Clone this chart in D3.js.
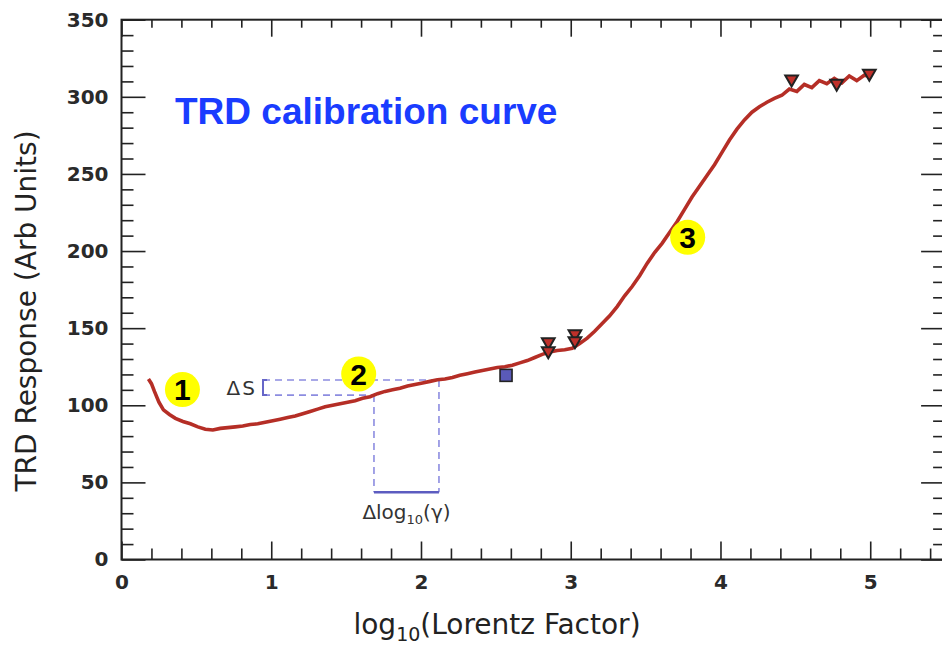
<!DOCTYPE html>
<html>
<head>
<meta charset="utf-8">
<script src="https://cdn.jsdelivr.net/npm/d3@7"></script>
<style>
  body { margin: 0; background: #fff; }
  svg { display: block; }
</style>
</head>
<body>
<div id="chart"></div>
<script>
// TRD response vs log10(gamma)
var curveLogGamma = [0.18, 0.20, 0.22, 0.25, 0.28, 0.32, 0.36, 0.41, 0.46, 0.51, 0.56, 0.61, 0.66, 0.71, 0.76,
  0.81, 0.86, 0.91, 0.96, 1.01, 1.06, 1.11, 1.16, 1.21, 1.26, 1.31, 1.36, 1.41, 1.46, 1.51,
  1.56, 1.61, 1.66, 1.71, 1.76, 1.81, 1.86, 1.91, 1.96, 2.01, 2.06, 2.11, 2.16, 2.21, 2.26,
  2.31, 2.36, 2.41, 2.46, 2.51, 2.56, 2.61, 2.66, 2.71, 2.76, 2.81, 2.86, 2.91, 2.96, 3.01,
  3.06, 3.11, 3.16, 3.21, 3.26, 3.31, 3.36, 3.41, 3.46, 3.51, 3.56, 3.61, 3.66, 3.71, 3.76,
  3.81, 3.86, 3.91, 3.96, 4.01, 4.06, 4.11, 4.16, 4.21, 4.26, 4.31, 4.36, 4.41, 4.46, 4.51,
  4.56, 4.61, 4.66, 4.71, 4.76, 4.81, 4.86, 4.91, 4.96, 5.01];
var curveResponse = [117, 114, 109, 102, 97, 94, 91.5, 89.5, 88, 86, 84.5, 84, 85, 85.5, 86,
  86.5, 87.5, 88, 89, 90, 91, 92, 93, 94.5, 96, 97.5, 99, 100, 101, 102,
  103, 104.5, 105.5, 107.5, 109, 110, 111, 112.5, 113.5, 114.5, 115.5, 116.5, 117, 118, 119.5,
  120.5, 121.5, 122.5, 123.5, 124.5, 125, 126, 127.5, 129, 131, 133, 134.5, 135.5, 136, 137,
  140, 143.5, 148, 153, 158, 164, 171, 177, 184, 192, 199, 205, 212, 219, 227,
  235, 242, 249, 256, 264, 272, 279, 285, 290, 293.5, 296.5, 299, 301, 305, 303.5,
  308, 306, 310.5, 308.5, 312, 309, 313.5, 310.5, 314, 313];

// beam-test points (down triangles) and the single square point
var triLogGamma = [2.85, 2.85, 3.028, 3.028, 4.475, 4.776, 4.994];
var triResponse = [141, 135.2, 146.2, 141.7, 311.4, 308.7, 315.2];
var squareLogGamma = [2.568];
var squareResponse = [119.4];

// numbered call-outs
var calloutLogGamma = [0.407, 1.584, 3.781];
var calloutResponse = [110.2, 120.3, 208.9];
var calloutLabels = ["1", "2", "3"];

var xTickValues = [0, 1, 2, 3, 4, 5];
var yTickValues = [0, 50, 100, 150, 200, 250, 300, 350];

var width = 942, height = 645;

var x = d3.scaleLinear().domain([0, 5.5]).range([121.5, 945.1]);
var y = d3.scaleLinear().domain([0, 350]).range([559.5, 19.7]);

var svg = d3.select("#chart").append("svg")
    .attr("width", width)
    .attr("height", height);

var axisColor = "#222";

// frame
svg.append("rect")
    .attr("x", x(0)).attr("y", y(350))
    .attr("width", x(5.5) - x(0)).attr("height", y(0) - y(350))
    .attr("fill", "none").attr("stroke", axisColor).attr("stroke-width", 2);

function styleAxis(g) {
  g.select(".domain").remove();
  g.selectAll(".tick line").attr("stroke", axisColor).attr("stroke-width", 1.6);
  g.selectAll(".tick text")
      .attr("fill", "#2a2a2a")
      .attr("font-family", "DejaVu Sans")
      .attr("font-weight", "bold")
      .attr("font-size", 20);
}

// minor ticks
var xMinor = d3.range(0, 5.5, 0.2).filter(function(v) { return Math.abs(v - Math.round(v)) > 0.01; });
var yMinor = d3.range(0, 351, 10).filter(function(v) { return v % 50 != 0; });

svg.append("g").attr("transform", "translate(0," + y(0) + ")")
    .call(d3.axisBottom(x).tickValues(xMinor).tickSize(-11).tickFormat(""))
    .call(styleAxis);
svg.append("g").attr("transform", "translate(0," + y(350) + ")")
    .call(d3.axisTop(x).tickValues(xMinor).tickSize(-8).tickFormat(""))
    .call(styleAxis);
svg.append("g").attr("transform", "translate(" + x(0) + ",0)")
    .call(d3.axisLeft(y).tickValues(yMinor).tickSize(-12).tickFormat(""))
    .call(styleAxis);
svg.append("g").attr("transform", "translate(" + x(5.5) + ",0)")
    .call(d3.axisRight(y).tickValues(yMinor).tickSize(-12).tickFormat(""))
    .call(styleAxis);

// major ticks + labels
svg.append("g").attr("transform", "translate(0," + y(0) + ")")
    .call(d3.axisBottom(x).tickValues(xTickValues).tickSizeInner(-18).tickSizeOuter(0)
      .tickPadding(15).tickFormat(d3.format("d")))
    .call(styleAxis);
svg.append("g").attr("transform", "translate(0," + y(350) + ")")
    .call(d3.axisTop(x).tickValues(xTickValues).tickSize(-17).tickFormat(""))
    .call(styleAxis);
svg.append("g").attr("transform", "translate(" + x(0) + ",0)")
    .call(d3.axisLeft(y).tickValues(yTickValues).tickSizeInner(-24).tickSizeOuter(0)
      .tickPadding(13).tickFormat(d3.format("d")))
    .call(styleAxis);
svg.append("g").attr("transform", "translate(" + x(5.5) + ",0)")
    .call(d3.axisRight(y).tickValues(yTickValues).tickSize(-24).tickFormat(""))
    .call(styleAxis);

// axis titles
var xLabel = svg.append("text")
    .attr("x", 497).attr("y", 634)
    .attr("text-anchor", "middle")
    .attr("font-family", "DejaVu Sans")
    .attr("font-size", 28)
    .attr("fill", "#222");
xLabel.append("tspan").text("log");
xLabel.append("tspan").attr("font-size", 19).attr("dy", 7).text("10");
xLabel.append("tspan").attr("dy", -7).text("(Lorentz Factor)");

svg.append("text")
    .attr("transform", "translate(35.5,311) rotate(-90)")
    .attr("text-anchor", "middle")
    .attr("font-family", "DejaVu Sans")
    .attr("font-size", 28)
    .attr("fill", "#222")
    .text("TRD Response (Arb Units)");

// title
svg.append("text")
    .attr("x", 175).attr("y", 123.5)
    .attr("font-family", "Liberation Sans, Arial, sans-serif")
    .attr("font-weight", "bold")
    .attr("font-size", 37)
    .attr("fill", "#1a3cff")
    .text("TRD calibration curve");

// delta-S / delta-log10(gamma) construction
var dsLeft = 0.945, dsMid = 1.686, dsRight = 2.12;
var dsTop = 116.4, dsBottom = 106.6, dgLevel = 43.6;
var dashCol = "#8c8ce0";
var dashes = [
  [dsLeft, dsTop, dsRight, dsTop],
  [dsLeft, dsBottom, dsMid, dsBottom],
  [dsMid, dsBottom, dsMid, dgLevel],
  [dsRight, dsTop, dsRight, dgLevel]
];
svg.selectAll(".dash").data(dashes).enter().append("line")
    .attr("class", "dash")
    .attr("x1", function(d) { return x(d[0]); })
    .attr("y1", function(d) { return y(d[1]); })
    .attr("x2", function(d) { return x(d[2]); })
    .attr("y2", function(d) { return y(d[3]); })
    .attr("stroke", dashCol)
    .attr("stroke-width", 1.6)
    .attr("stroke-dasharray", "7,5");

svg.append("path")
    .attr("d", "M" + (x(dsLeft) + 4) + "," + y(dsTop) + "H" + x(dsLeft) + "V" + y(dsBottom) + "H" + (x(dsLeft) + 4))
    .attr("fill", "none").attr("stroke", "#6666c8").attr("stroke-width", 2);

svg.append("line")
    .attr("x1", x(dsMid)).attr("x2", x(dsRight))
    .attr("y1", y(dgLevel)).attr("y2", y(dgLevel))
    .attr("stroke", "#5c5cc0").attr("stroke-width", 2.5);

svg.append("text")
    .attr("x", x(dsLeft) - 6).attr("y", y((dsTop + dsBottom) / 2) + 7)
    .attr("text-anchor", "end")
    .attr("font-family", "DejaVu Sans")
    .attr("font-size", 20)
    .attr("letter-spacing", 2)
    .attr("fill", "#333")
    .text("\u0394S");

var dgLabel = svg.append("text")
    .attr("x", x((dsMid + dsRight) / 2)).attr("y", 519)
    .attr("text-anchor", "middle")
    .attr("font-family", "DejaVu Sans")
    .attr("font-size", 20)
    .attr("fill", "#333");
dgLabel.append("tspan").text("\u0394log");
dgLabel.append("tspan").attr("font-size", 13).attr("dy", 5).text("10");
dgLabel.append("tspan").attr("dy", -5).text("(\u03b3)");

// calibration curve
var curve = d3.zip(curveLogGamma, curveResponse);
svg.append("path")
    .datum(curve)
    .attr("fill", "none")
    .attr("stroke", "#b52e26")
    .attr("stroke-width", 3.6)
    .attr("d", d3.line()
      .x(function(d) { return x(d[0]); })
      .y(function(d) { return y(d[1]); }));

// square point
svg.selectAll(".sq").data(d3.zip(squareLogGamma, squareResponse)).enter().append("rect")
    .attr("class", "sq")
    .attr("x", function(d) { return x(d[0]) - 6; })
    .attr("y", function(d) { return y(d[1]) - 6; })
    .attr("width", 12).attr("height", 12)
    .attr("fill", "#5a5ab8").attr("stroke", "#222").attr("stroke-width", 1.6);

// triangles
svg.selectAll(".tri").data(d3.zip(triLogGamma, triResponse)).enter().append("path")
    .attr("class", "tri")
    .attr("transform", function(d) { return "translate(" + x(d[0]) + "," + y(d[1]) + ") rotate(180)"; })
    .attr("d", d3.symbol(d3.symbolTriangle, 70))
    .attr("fill", "#c0302a").attr("stroke", "#222").attr("stroke-width", 2);

// numbered call-outs
var callout = svg.selectAll(".callout")
    .data(d3.range(calloutLabels.length)).enter().append("g")
    .attr("class", "callout")
    .attr("transform", function(i) {
      return "translate(" + x(calloutLogGamma[i]) + "," + y(calloutResponse[i]) + ")";
    });
callout.append("circle").attr("r", 17.5).attr("fill", "#ffff00");
callout.append("text")
    .attr("text-anchor", "middle")
    .attr("dy", "0.36em")
    .attr("font-family", "Liberation Sans, Arial, sans-serif")
    .attr("font-weight", "bold")
    .attr("font-size", 30)
    .attr("fill", "#000")
    .text(function(i) { return calloutLabels[i]; });
</script>
</body>
</html>
